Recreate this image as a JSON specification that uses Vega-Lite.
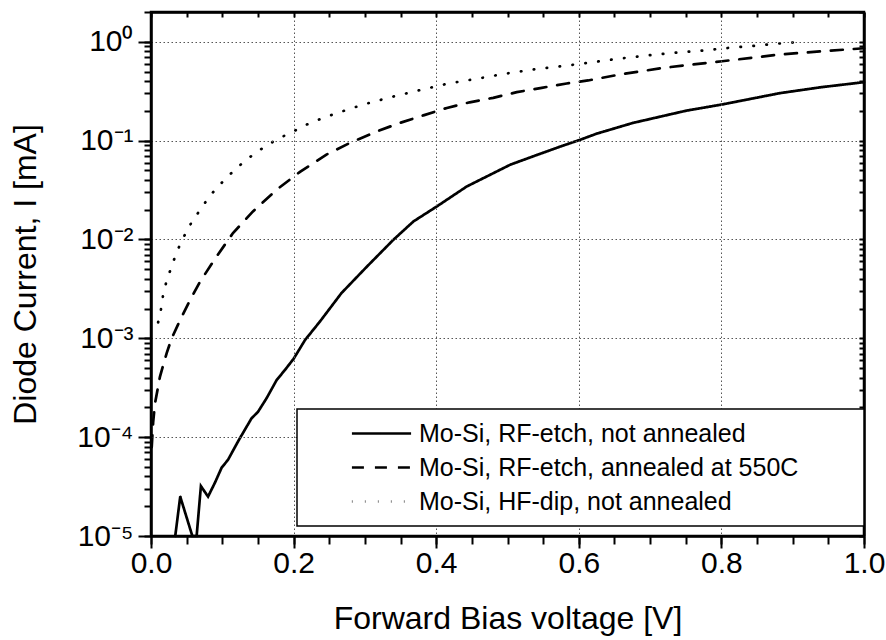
{
  "$schema": "https://vega.github.io/schema/vega-lite/v6.json",
  "width": 713,
  "height": 524,
  "autosize": {"type": "none"},
  "padding": {"left": 151, "top": 12, "right": 22, "bottom": 104},
  "background": "white",
  "config": {
    "font": "Liberation Sans",
    "view": {"stroke": "black", "strokeWidth": 2.5},
    "legend": {
      "labelFont": "Liberation Sans",
      "labelFontSize": 25,
      "labelColor": "black",
      "labelLimit": 800,
      "strokeColor": "black",
      "strokeWidth": 1.5,
      "fillColor": "white",
      "padding": 11,
      "rowPadding": 7
    }
  },
  "data": {"values": [
      {"series": "Mo-Si, RF-etch, not annealed", "V": 0.034, "I": 1e-5},
      {"series": "Mo-Si, RF-etch, not annealed", "V": 0.041, "I": 2.5e-5},
      {"series": "Mo-Si, RF-etch, not annealed", "V": 0.058, "I": 1e-5},
      {"series": "Mo-Si, RF-etch, not annealed", "V": 0.064, "I": 1e-5},
      {"series": "Mo-Si, RF-etch, not annealed", "V": 0.070, "I": 3.2e-5},
      {"series": "Mo-Si, RF-etch, not annealed", "V": 0.080, "I": 2.5e-5},
      {"series": "Mo-Si, RF-etch, not annealed", "V": 0.090, "I": 3.5e-5},
      {"series": "Mo-Si, RF-etch, not annealed", "V": 0.099, "I": 4.9e-5},
      {"series": "Mo-Si, RF-etch, not annealed", "V": 0.108, "I": 5.9e-5},
      {"series": "Mo-Si, RF-etch, not annealed", "V": 0.123, "I": 9.3e-5},
      {"series": "Mo-Si, RF-etch, not annealed", "V": 0.141, "I": 1.55e-4},
      {"series": "Mo-Si, RF-etch, not annealed", "V": 0.150, "I": 1.8e-4},
      {"series": "Mo-Si, RF-etch, not annealed", "V": 0.162, "I": 2.47e-4},
      {"series": "Mo-Si, RF-etch, not annealed", "V": 0.176, "I": 3.76e-4},
      {"series": "Mo-Si, RF-etch, not annealed", "V": 0.188, "I": 4.8e-4},
      {"series": "Mo-Si, RF-etch, not annealed", "V": 0.200, "I": 6.2e-4},
      {"series": "Mo-Si, RF-etch, not annealed", "V": 0.216, "I": 9.6e-4},
      {"series": "Mo-Si, RF-etch, not annealed", "V": 0.237, "I": 1.48e-3},
      {"series": "Mo-Si, RF-etch, not annealed", "V": 0.267, "I": 2.86e-3},
      {"series": "Mo-Si, RF-etch, not annealed", "V": 0.303, "I": 5.33e-3},
      {"series": "Mo-Si, RF-etch, not annealed", "V": 0.340, "I": 9.93e-3},
      {"series": "Mo-Si, RF-etch, not annealed", "V": 0.368, "I": 1.52e-2},
      {"series": "Mo-Si, RF-etch, not annealed", "V": 0.401, "I": 2.16e-2},
      {"series": "Mo-Si, RF-etch, not annealed", "V": 0.443, "I": 3.44e-2},
      {"series": "Mo-Si, RF-etch, not annealed", "V": 0.504, "I": 5.71e-2},
      {"series": "Mo-Si, RF-etch, not annealed", "V": 0.540, "I": 7.1e-2},
      {"series": "Mo-Si, RF-etch, not annealed", "V": 0.574, "I": 8.7e-2},
      {"series": "Mo-Si, RF-etch, not annealed", "V": 0.602, "I": 0.102},
      {"series": "Mo-Si, RF-etch, not annealed", "V": 0.625, "I": 0.1175},
      {"series": "Mo-Si, RF-etch, not annealed", "V": 0.676, "I": 0.151},
      {"series": "Mo-Si, RF-etch, not annealed", "V": 0.751, "I": 0.201},
      {"series": "Mo-Si, RF-etch, not annealed", "V": 0.801, "I": 0.232},
      {"series": "Mo-Si, RF-etch, not annealed", "V": 0.882, "I": 0.302},
      {"series": "Mo-Si, RF-etch, not annealed", "V": 0.940, "I": 0.347},
      {"series": "Mo-Si, RF-etch, not annealed", "V": 1.000, "I": 0.39},
      {"series": "Mo-Si, RF-etch, annealed at 550C", "V": 0.001, "I": 7.9e-5},
      {"series": "Mo-Si, RF-etch, annealed at 550C", "V": 0.003, "I": 1.41e-4},
      {"series": "Mo-Si, RF-etch, annealed at 550C", "V": 0.0056, "I": 2.2e-4},
      {"series": "Mo-Si, RF-etch, annealed at 550C", "V": 0.0126, "I": 4.1e-4},
      {"series": "Mo-Si, RF-etch, annealed at 550C", "V": 0.022, "I": 7.08e-4},
      {"series": "Mo-Si, RF-etch, annealed at 550C", "V": 0.029, "I": 1.0e-3},
      {"series": "Mo-Si, RF-etch, annealed at 550C", "V": 0.041, "I": 1.54e-3},
      {"series": "Mo-Si, RF-etch, annealed at 550C", "V": 0.055, "I": 2.45e-3},
      {"series": "Mo-Si, RF-etch, annealed at 550C", "V": 0.069, "I": 3.76e-3},
      {"series": "Mo-Si, RF-etch, annealed at 550C", "V": 0.092, "I": 6.73e-3},
      {"series": "Mo-Si, RF-etch, annealed at 550C", "V": 0.115, "I": 1.16e-2},
      {"series": "Mo-Si, RF-etch, annealed at 550C", "V": 0.143, "I": 1.92e-2},
      {"series": "Mo-Si, RF-etch, annealed at 550C", "V": 0.176, "I": 3.18e-2},
      {"series": "Mo-Si, RF-etch, annealed at 550C", "V": 0.209, "I": 4.83e-2},
      {"series": "Mo-Si, RF-etch, annealed at 550C", "V": 0.246, "I": 7.21e-2},
      {"series": "Mo-Si, RF-etch, annealed at 550C", "V": 0.279, "I": 9.48e-2},
      {"series": "Mo-Si, RF-etch, annealed at 550C", "V": 0.317, "I": 0.124},
      {"series": "Mo-Si, RF-etch, annealed at 550C", "V": 0.349, "I": 0.151},
      {"series": "Mo-Si, RF-etch, annealed at 550C", "V": 0.382, "I": 0.180},
      {"series": "Mo-Si, RF-etch, annealed at 550C", "V": 0.415, "I": 0.214},
      {"series": "Mo-Si, RF-etch, annealed at 550C", "V": 0.447, "I": 0.244},
      {"series": "Mo-Si, RF-etch, annealed at 550C", "V": 0.480, "I": 0.271},
      {"series": "Mo-Si, RF-etch, annealed at 550C", "V": 0.513, "I": 0.309},
      {"series": "Mo-Si, RF-etch, annealed at 550C", "V": 0.548, "I": 0.342},
      {"series": "Mo-Si, RF-etch, annealed at 550C", "V": 0.583, "I": 0.378},
      {"series": "Mo-Si, RF-etch, annealed at 550C", "V": 0.613, "I": 0.406},
      {"series": "Mo-Si, RF-etch, annealed at 550C", "V": 0.658, "I": 0.467},
      {"series": "Mo-Si, RF-etch, annealed at 550C", "V": 0.719, "I": 0.545},
      {"series": "Mo-Si, RF-etch, annealed at 550C", "V": 0.801, "I": 0.635},
      {"series": "Mo-Si, RF-etch, annealed at 550C", "V": 0.882, "I": 0.743},
      {"series": "Mo-Si, RF-etch, annealed at 550C", "V": 0.940, "I": 0.80},
      {"series": "Mo-Si, RF-etch, annealed at 550C", "V": 1.000, "I": 0.86},
      {"series": "Mo-Si, HF-dip, not annealed", "V": 0.010, "I": 1.45e-3},
      {"series": "Mo-Si, HF-dip, not annealed", "V": 0.014, "I": 1.97e-3},
      {"series": "Mo-Si, HF-dip, not annealed", "V": 0.017, "I": 2.75e-3},
      {"series": "Mo-Si, HF-dip, not annealed", "V": 0.022, "I": 3.85e-3},
      {"series": "Mo-Si, HF-dip, not annealed", "V": 0.029, "I": 5.33e-3},
      {"series": "Mo-Si, HF-dip, not annealed", "V": 0.036, "I": 7.45e-3},
      {"series": "Mo-Si, HF-dip, not annealed", "V": 0.045, "I": 1.03e-2},
      {"series": "Mo-Si, HF-dip, not annealed", "V": 0.056, "I": 1.45e-2},
      {"series": "Mo-Si, HF-dip, not annealed", "V": 0.069, "I": 2.0e-2},
      {"series": "Mo-Si, HF-dip, not annealed", "V": 0.083, "I": 2.79e-2},
      {"series": "Mo-Si, HF-dip, not annealed", "V": 0.101, "I": 3.87e-2},
      {"series": "Mo-Si, HF-dip, not annealed", "V": 0.120, "I": 5.28e-2},
      {"series": "Mo-Si, HF-dip, not annealed", "V": 0.139, "I": 6.84e-2},
      {"series": "Mo-Si, HF-dip, not annealed", "V": 0.160, "I": 8.75e-2},
      {"series": "Mo-Si, HF-dip, not annealed", "V": 0.179, "I": 0.105},
      {"series": "Mo-Si, HF-dip, not annealed", "V": 0.200, "I": 0.124},
      {"series": "Mo-Si, HF-dip, not annealed", "V": 0.218, "I": 0.145},
      {"series": "Mo-Si, HF-dip, not annealed", "V": 0.239, "I": 0.167},
      {"series": "Mo-Si, HF-dip, not annealed", "V": 0.259, "I": 0.188},
      {"series": "Mo-Si, HF-dip, not annealed", "V": 0.298, "I": 0.232},
      {"series": "Mo-Si, HF-dip, not annealed", "V": 0.338, "I": 0.277},
      {"series": "Mo-Si, HF-dip, not annealed", "V": 0.377, "I": 0.324},
      {"series": "Mo-Si, HF-dip, not annealed", "V": 0.417, "I": 0.378},
      {"series": "Mo-Si, HF-dip, not annealed", "V": 0.457, "I": 0.422},
      {"series": "Mo-Si, HF-dip, not annealed", "V": 0.496, "I": 0.474},
      {"series": "Mo-Si, HF-dip, not annealed", "V": 0.536, "I": 0.524},
      {"series": "Mo-Si, HF-dip, not annealed", "V": 0.576, "I": 0.566},
      {"series": "Mo-Si, HF-dip, not annealed", "V": 0.613, "I": 0.612},
      {"series": "Mo-Si, HF-dip, not annealed", "V": 0.655, "I": 0.673},
      {"series": "Mo-Si, HF-dip, not annealed", "V": 0.695, "I": 0.726},
      {"series": "Mo-Si, HF-dip, not annealed", "V": 0.735, "I": 0.774},
      {"series": "Mo-Si, HF-dip, not annealed", "V": 0.775, "I": 0.817},
      {"series": "Mo-Si, HF-dip, not annealed", "V": 0.812, "I": 0.869},
      {"series": "Mo-Si, HF-dip, not annealed", "V": 0.852, "I": 0.918},
      {"series": "Mo-Si, HF-dip, not annealed", "V": 0.892, "I": 0.977},
      {"series": "Mo-Si, HF-dip, not annealed", "V": 0.915, "I": 0.993}
  ]},
  "layer": [
    {
      "mark": {"type": "line", "color": "black", "strokeWidth": 2.7, "strokeCap": "round"},
      "encoding": {
        "x": {
          "field": "V", "type": "quantitative",
          "scale": {"domain": [0, 1], "nice": false, "zero": false},
          "axis": {
            "orient": "bottom",
            "title": "Forward Bias voltage [V]",
            "tickCount": 5,
            "format": ".1f",
            "zindex": 1,
            "domainColor": "black", "domainWidth": 2.5,
            "tickColor": "black", "tickWidth": 2, "tickSize": 12,
            "labelFontSize": 30, "labelColor": "black",
            "labelFlush": false,
            "labelPadding": 0,
            "titleFontSize": 32, "titleFontWeight": "normal", "titleColor": "black",
            "titlePadding": 25,
            "grid": true, "gridColor": "#555555", "gridWidth": 1, "gridDash": [1.5, 2.5]
          }
        },
        "y": {
          "field": "I", "type": "quantitative",
          "scale": {"type": "log", "domain": [1e-5, 2], "nice": false},
          "axis": {
            "orient": "left",
            "title": "Diode Current, I [mA]",
            "tickCount": 5,
            "labelExpr": "'10' + ['⁰','⁻¹','⁻²','⁻³','⁻⁴','⁻⁵'][-round(log(datum.value)/LN10)]",
            "zindex": 1,
            "domainColor": "black", "domainWidth": 2.5,
            "tickColor": "black", "tickWidth": 2, "tickSize": 13,
            "labelFontSize": 30, "labelColor": "black",
            "labelFlush": false,
            "labelPadding": 5,
            "titleFontSize": 32, "titleFontWeight": "normal", "titleColor": "black",
            "titlePadding": 34,
            "grid": true, "gridColor": "#555555", "gridWidth": 1, "gridDash": [1.5, 2.5]
          }
        },
        "strokeDash": {
          "field": "series", "type": "nominal",
          "scale": {
            "domain": ["Mo-Si, RF-etch, not annealed", "Mo-Si, RF-etch, annealed at 550C", "Mo-Si, HF-dip, not annealed"],
            "range": [[1, 0], [12, 11], [0.5, 12.5]]
          },
          "legend": {
            "title": "MMM",
            "titleOrient": "right",
            "titleOpacity": 0,
            "titleFontSize": 20,
            "titlePadding": 5,
            "orient": "none",
            "legendX": 146,
            "legendY": 397,
            "zindex": 3,
            "symbolType": "M-2.5,0H2.5",
            "symbolSize": 560,
            "symbolStrokeColor": "black",
            "symbolStrokeWidth": 2.5,
            "symbolOffset": 60,
            "labelOffset": 24
          }
        }
      }
    },
    {
      "mark": {"type": "point", "opacity": 0},
      "encoding": {
        "x": {
          "field": "V", "type": "quantitative",
          "axis": {
            "orient": "bottom", "title": null, "labels": false, "domain": false,
            "tickCount": 20, "zindex": 2,
            "tickColor": "black", "tickWidth": 2, "tickSize": 8,
            "gridOpacity": 0
          }
        },
        "y": {
          "field": "I", "type": "quantitative",
          "axis": {
            "orient": "left", "title": null, "labels": false, "domain": false,
            "tickCount": 60, "zindex": 2,
            "tickColor": "black", "tickWidth": 2, "tickSize": 7,
            "gridOpacity": 0
          }
        }
      }
    },
    {
      "mark": {"type": "point", "opacity": 0},
      "encoding": {
        "x": {
          "field": "V", "type": "quantitative",
          "axis": {
            "orient": "top", "title": null, "labels": false,
            "tickCount": 20, "zindex": 2,
            "domainColor": "black", "domainWidth": 2.5,
            "tickColor": "black", "tickWidth": 2, "tickSize": -5,
            "gridOpacity": 0
          }
        },
        "y": {
          "field": "I", "type": "quantitative",
          "axis": {
            "orient": "right", "title": null, "labels": false,
            "tickCount": 60, "zindex": 2,
            "domainColor": "black", "domainWidth": 2.5,
            "tickColor": "black", "tickWidth": 2, "tickSize": -5,
            "gridOpacity": 0
          }
        }
      }
    }
  ],
  "resolve": {"axis": {"x": "independent", "y": "independent"}}
}
